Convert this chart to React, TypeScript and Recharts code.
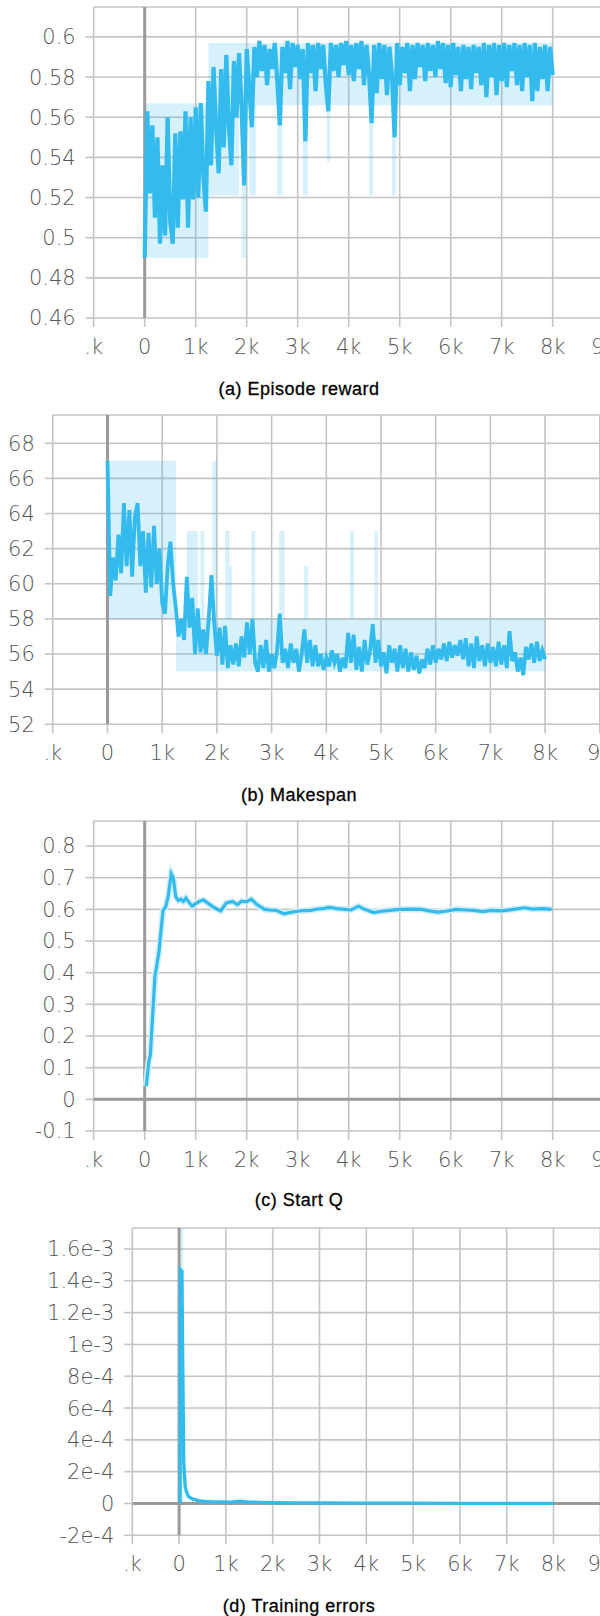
import React from 'react';
import {
  ComposedChart,
  Line,
  Area,
  XAxis,
  YAxis,
  CartesianGrid,
  ReferenceLine,
} from 'recharts';

// shared step axis
const stepTicks = [-1000, 0, 1000, 2000, 3000, 4000, 5000, 6000, 7000, 8000, 9000];
const stepLabels = ['.k', '0', '1k', '2k', '3k', '4k', '5k', '6k', '7k', '8k', '9k'];

// (a) Episode reward, logged every 50 steps from 0 to 8000
const rewardInterval = 50;
const rewardValues = [
  0.490, 0.563, 0.522, 0.556, 0.510, 0.550, 0.497, 0.536, 0.501, 0.560,
  0.508, 0.497, 0.552, 0.505, 0.553, 0.519, 0.563, 0.505, 0.560, 0.519,
  0.565, 0.520, 0.567, 0.530, 0.513,
  0.578, 0.536, 0.585, 0.555, 0.532, 0.584, 0.545, 0.591, 0.555, 0.536,
  0.588, 0.560, 0.592, 0.565, 0.526, 0.594,
  0.575, 0.555, 0.595, 0.580, 0.598, 0.583, 0.596, 0.576, 0.594, 0.584,
  0.597, 0.578, 0.556, 0.595, 0.582, 0.598, 0.574, 0.597, 0.585, 0.596,
  0.579, 0.594, 0.548, 0.597, 0.582, 0.596, 0.573, 0.597, 0.584, 0.596,
  0.577, 0.563, 0.597, 0.583, 0.596, 0.580, 0.597, 0.586, 0.598, 0.581,
  0.596, 0.578, 0.597, 0.584, 0.598, 0.576, 0.596, 0.581, 0.557, 0.596,
  0.572, 0.597, 0.579, 0.596, 0.571, 0.595, 0.580, 0.550, 0.597, 0.576,
  0.595, 0.582, 0.597, 0.573, 0.596, 0.579, 0.597, 0.585, 0.596, 0.578,
  0.597, 0.583, 0.596, 0.580, 0.598, 0.584, 0.597, 0.577, 0.596, 0.575,
  0.597, 0.581, 0.595, 0.573, 0.596, 0.579, 0.595, 0.574, 0.596, 0.582,
  0.595, 0.576, 0.597, 0.570, 0.596, 0.580, 0.597, 0.571, 0.596, 0.578,
  0.597, 0.575, 0.596, 0.583, 0.597, 0.576, 0.596, 0.573, 0.597, 0.580,
  0.596, 0.568, 0.597, 0.573, 0.595, 0.579, 0.596, 0.573, 0.595, 0.581,
];
const rewardBandSteps = [0, 1250, 1850, 1900, 1980, 2050, 2180, 2600, 2700, 3100, 3200, 3570, 3640, 4400, 4480, 4850, 4930, 8000];
const rewardBandLow = [0.490, 0.521, 0.566, 0.490, 0.566, 0.521, 0.566, 0.521, 0.566, 0.521, 0.566, 0.538, 0.566, 0.521, 0.566, 0.521, 0.566, 0.566];
const rewardBandHigh = [0.567, 0.597, 0.597, 0.597, 0.597, 0.597, 0.597, 0.597, 0.597, 0.597, 0.597, 0.597, 0.597, 0.597, 0.597, 0.597, 0.597, 0.597];
const rewardTicks = [0.46, 0.48, 0.5, 0.52, 0.54, 0.56, 0.58, 0.6];
const rewardTickLabels = ['0.46', '0.48', '0.5', '0.52', '0.54', '0.56', '0.58', '0.6'];

// (b) Makespan, logged every 50 steps from 0 to 8000
const makespanInterval = 50;
const makespanValues = [
  67.0, 59.3, 61.5, 60.2, 62.8, 60.6, 64.6, 61.0, 64.2, 60.4, 63.8, 64.6, 61.0, 63.0, 59.5, 62.9, 59.8, 63.3, 60.0, 62.0,
  58.9, 58.3, 61.0, 62.4, 60.0, 58.6, 57.0, 58.0, 56.8, 60.4, 57.5, 59.2, 56.0, 58.6, 56.1, 57.4, 56.0, 58.0, 60.5, 57.8,
  55.9, 57.5, 55.4, 57.6, 55.2, 56.5, 55.4, 56.6, 55.3, 57.0, 55.8, 57.8, 56.0, 58.0, 55.5, 55.0, 56.5, 55.2, 56.8, 55.0,
  56.0, 55.2, 56.2, 58.3, 55.5, 56.3, 55.2, 56.6, 55.5, 56.3, 55.0, 56.0, 57.4, 55.5, 56.8, 55.3, 56.5, 55.3, 56.0, 55.1,
  55.8, 55.3, 56.2, 55.5, 56.0, 55.0, 55.8, 55.2, 57.2, 55.5, 57.1, 55.1, 56.4, 55.0, 56.8, 55.4, 56.2, 57.7, 55.5, 56.8,
  55.3, 56.1, 54.9, 56.5, 55.5, 56.3, 55.0, 56.5, 55.2, 56.3, 55.0, 56.1, 55.1, 55.9, 54.9, 55.7, 55.2, 56.3, 55.4, 56.5,
  55.5, 56.3, 55.7, 56.6, 55.6, 56.7, 55.8, 56.5, 55.9, 56.8, 55.7, 56.9, 55.3, 56.6, 55.2, 57.0, 55.6, 56.5, 55.3, 56.6,
  55.5, 56.4, 55.3, 56.7, 55.4, 56.5, 55.2, 57.3, 55.6, 56.1, 55.0, 55.8, 54.8, 56.4, 55.7, 56.6, 55.5, 56.7, 55.6, 56.2,
  55.7,
];
const makespanBandSteps = [0, 1250, 1450, 1650, 1700, 1770, 1920, 2000, 2150, 2230, 2280, 2630, 2700, 3140, 3240, 3590, 3670, 4430, 4510, 4880, 4940, 8000];
const makespanBandLow = [58, 55, 55, 55, 55, 55, 55, 55, 55, 55, 55, 55, 55, 55, 55, 55, 55, 55, 55, 55, 55, 55];
const makespanBandHigh = [67, 58, 63, 58, 63, 58, 67, 58, 63, 61, 58, 63, 58, 63, 58, 61, 58, 63, 58, 63, 58, 58];
const makespanTicks = [52, 54, 56, 58, 60, 62, 64, 66, 68];
const makespanTickLabels = ['52', '54', '56', '58', '60', '62', '64', '66', '68'];

// (c) Start Q
const startQSteps = [
  30, 80, 110, 200, 280, 330, 360, 410, 460, 520,
  560, 610, 660, 710, 760, 810, 870, 930, 1000, 1080,
  1150, 1250, 1370, 1490, 1600, 1720, 1820, 1900, 2000, 2090,
  2200, 2350, 2450, 2580, 2730, 2880, 3000, 3100, 3250, 3400,
  3520, 3630, 3780, 3920, 4050, 4190, 4300, 4490, 4650, 4800,
  5000, 5200, 5430, 5580, 5750, 5900, 6100, 6300, 6450, 6630,
  6800, 7000, 7230, 7450, 7600, 7800, 7980,
];
const startQValues = [
  0.042, 0.119, 0.14, 0.387, 0.466, 0.55, 0.597, 0.607, 0.64, 0.713,
  0.700, 0.639, 0.628, 0.632, 0.625, 0.636, 0.622, 0.610, 0.618, 0.626,
  0.630, 0.618, 0.605, 0.595, 0.620, 0.625, 0.615, 0.626, 0.624, 0.632,
  0.615, 0.600, 0.598, 0.597, 0.586, 0.591, 0.594, 0.596, 0.597, 0.601,
  0.603, 0.606, 0.602, 0.600, 0.598, 0.610, 0.601, 0.590, 0.594, 0.597,
  0.600, 0.601, 0.600, 0.595, 0.591, 0.594, 0.600, 0.598, 0.597, 0.593,
  0.597, 0.595, 0.600, 0.605, 0.601, 0.602, 0.600,
];
const startQTicks = [-0.1, 0, 0.1, 0.2, 0.3, 0.4, 0.5, 0.6, 0.7, 0.8];
const startQTickLabels = ['-0.1', '0', '0.1', '0.2', '0.3', '0.4', '0.5', '0.6', '0.7', '0.8'];

// (d) Training errors
const errorSteps = [20, 30, 60, 80, 100, 130, 160, 200, 260, 330, 420, 550, 700, 900, 1100, 1300, 1450, 1700, 2000, 2500, 3000, 4000, 5000, 6000, 7000, 8000];
const errorValues = [0, 1.47e-3, 1.46e-3, 8e-4, 2.5e-4, 1.1e-4, 7e-5, 4.5e-5, 3.2e-5, 2.5e-5, 1.8e-5, 1.3e-5, 1e-5, 9e-6, 8e-6, 1.5e-5, 9e-6, 7e-6, 5e-6, 4e-6, 3e-6, 2e-6, 2e-6, 1e-6, 1e-6, 1e-6];
const errorBandSteps = [10, 90];
const errorBandLow = [0, 0];
const errorBandHigh = [2e-3, 0];
const errorTicks = [-2e-4, 0, 2e-4, 4e-4, 6e-4, 8e-4, 1e-3, 1.2e-3, 1.4e-3, 1.6e-3];
const errorTickLabels = ['-2e-4', '0', '2e-4', '4e-4', '6e-4', '8e-4', '1e-3', '1.2e-3', '1.4e-3', '1.6e-3'];

const BLUE = '#33bbee';
const GRID = '#c4c4c4';
const ZERO = '#9a9a9a';
const tickStyle = { fill: '#555', fontSize: 21, fontFamily: 'DejaVu Sans', fontWeight: 200 };

type Pt = { x: number; y: number };
type BandPt = { x: number; range: [number, number] };

const toBand = (steps: number[], lo: number[], hi: number[]): BandPt[] =>
  steps.map((s, i) => ({ x: s, range: [lo[i], hi[i]] }));

type PanelProps = {
  top: number;
  left: number;
  kpx: number;
  plotHeight: number;
  yDomain: [number, number];
  yTicks: number[];
  yLabels: string[];
  line: Pt[];
  lineWidth: number;
  band?: BandPt[];
  halo?: boolean;
  zeroRow?: boolean;
  caption: string;
  captionY: number;
};

const X_MAX = 9400;
const MT = 10;
const XH = 50;

const Panel = ({ top, left, kpx, plotHeight, yDomain, yTicks, yLabels, line, lineWidth, band, halo, zeroRow, caption, captionY }: PanelProps) => {
  const plotWidth = ((X_MAX + 1000) / 1000) * kpx;
  const right = 40;
  const width = left + plotWidth + right;
  const height = MT + plotHeight + XH;
  return (
    <>
      <div style={{ position: 'absolute', left: 0, top: top - MT }}>
        <ComposedChart width={width} height={height} margin={{ top: MT, right, bottom: 0, left: 0 }}>
          <CartesianGrid stroke={GRID} strokeWidth={1.6} />
          <XAxis
            type="number"
            dataKey="x"
            domain={[-1000, X_MAX]}
            ticks={stepTicks}
            interval={0}
            allowDataOverflow
            height={XH}
            axisLine={false}
            tickLine={{ stroke: GRID, strokeWidth: 1.6 }}
            tickSize={9}
            tickMargin={12}
            tick={tickStyle}
            tickFormatter={(v: number) => stepLabels[stepTicks.indexOf(v)]}
          />
          <YAxis
            type="number"
            domain={yDomain}
            ticks={yTicks}
            interval={0}
            allowDataOverflow
            width={left}
            axisLine={false}
            tickLine={{ stroke: GRID, strokeWidth: 1.6 }}
            tickSize={8}
            tickMargin={10}
            tick={tickStyle}
            tickFormatter={(v: number) => yLabels[yTicks.indexOf(v)]}
          />
          <ReferenceLine x={0} stroke={ZERO} strokeWidth={3} />
          {zeroRow && <ReferenceLine y={0} stroke={ZERO} strokeWidth={3} />}
          {band && (
            <Area
              data={band}
              dataKey="range"
              type="stepAfter"
              stroke="none"
              fill={BLUE}
              fillOpacity={0.2}
              isAnimationActive={false}
            />
          )}
          {halo && (
            <Line data={line} dataKey="y" type="linear" stroke="#d3eef9" strokeWidth={6.5} dot={false} isAnimationActive={false} />
          )}
          <Line
            data={line}
            dataKey="y"
            type="linear"
            stroke={BLUE}
            strokeWidth={lineWidth}
            strokeLinejoin="miter"
            dot={false}
            isAnimationActive={false}
          />
        </ComposedChart>
      </div>
      <div
        style={{
          position: 'absolute',
          left: 0,
          width: 598,
          top: captionY - 11,
          height: 22,
          lineHeight: '22px',
          textAlign: 'center',
          fontFamily: 'Liberation Sans, Arial, sans-serif',
          fontSize: 18,
          letterSpacing: 0.5,
          color: '#000',
          WebkitTextStroke: '0.3px #000',
        }}
      >
        {caption}
      </div>
    </>
  );
};

export default function App() {
  const reward = rewardValues.map((v, i) => ({ x: i * rewardInterval, y: v }));
  const makespan = makespanValues.map((v, i) => ({ x: i * makespanInterval, y: v }));
  const startQ = startQSteps.map((s, i) => ({ x: s, y: startQValues[i] }));
  const errors = errorSteps.map((s, i) => ({ x: s, y: errorValues[i] }));

  return (
    <div style={{ position: 'absolute', left: 0, top: 0, width: 600, height: 1616, overflow: 'hidden', background: '#fff' }}>
      <Panel
        top={6.7}
        left={93.7}
        kpx={51}
        plotHeight={311}
        yDomain={[0.46, 0.6149]}
        yTicks={rewardTicks}
        yLabels={rewardTickLabels}
        line={reward}
        lineWidth={4.2}
        band={toBand(rewardBandSteps, rewardBandLow, rewardBandHigh)}
        caption="(a) Episode reward"
        captionY={388.8}
      />
      <Panel
        top={415}
        left={52.8}
        kpx={54.7}
        plotHeight={309.3}
        yDomain={[52, 69.61]}
        yTicks={makespanTicks}
        yLabels={makespanTickLabels}
        line={makespan}
        lineWidth={3.8}
        band={toBand(makespanBandSteps, makespanBandLow, makespanBandHigh)}
        caption="(b) Makespan"
        captionY={795}
      />
      <Panel
        top={820.7}
        left={93.7}
        kpx={51}
        plotHeight={310}
        yDomain={[-0.1, 0.879]}
        yTicks={startQTicks}
        yLabels={startQTickLabels}
        line={startQ}
        lineWidth={3.2}
        halo
        zeroRow
        caption="(c) Start Q"
        captionY={1200}
      />
      <Panel
        top={1227.7}
        left={132.3}
        kpx={46.8}
        plotHeight={307.3}
        yDomain={[-2e-4, 1.732e-3]}
        yTicks={errorTicks}
        yLabels={errorTickLabels}
        line={errors}
        lineWidth={3.4}
        band={toBand(errorBandSteps, errorBandLow, errorBandHigh)}
        zeroRow
        caption="(d) Training errors"
        captionY={1606}
      />
    </div>
  );
}
